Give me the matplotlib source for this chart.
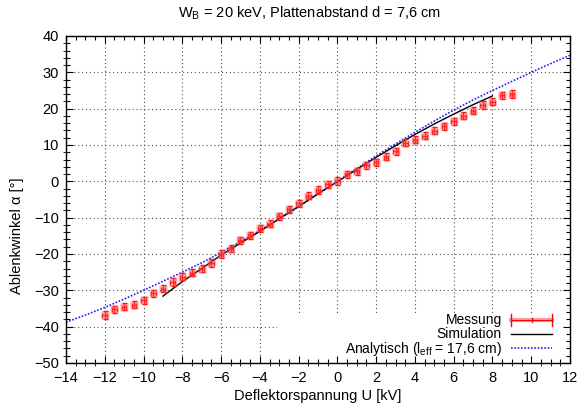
import matplotlib
matplotlib.use('Agg')
import matplotlib.pyplot as plt
from matplotlib.patches import Rectangle
from matplotlib.ticker import MultipleLocator

plt.rcParams['font.family'] = ['Liberation Sans', 'DejaVu Sans']
plt.rcParams['font.size'] = 10

# Messung
U_mess = [-12, -11.5, -11, -10.5, -10, -9.5, -9, -8.5, -8, -7.5, -7, -6.5, -6, -5.5,
          -5, -4.5, -4, -3.5, -3, -2.5, -2, -1.5, -1, -0.5, 0, 0.5, 1, 1.5, 2, 2.5,
          3, 3.5, 4, 4.5, 5, 5.5, 6, 6.5, 7, 7.5, 8, 8.5, 9]
alpha_mess = [-36.8, -35.2, -34.5, -34.0, -32.7, -30.8, -29.5, -27.7, -26.2, -25.1, -24.0,
              -22.5, -20.0, -18.5, -16.2, -14.9, -12.9, -11.7, -9.6, -7.7, -6.1, -4.0,
              -2.4, -0.8, 0.1, 1.9, 2.8, 4.4, 5.2, 6.8, 8.3, 10.6, 11.5, 12.6, 13.9,
              15.1, 16.5, 18.1, 19.4, 21.0, 21.9, 23.7, 24.0]
dU = 0.12
dalpha = 1.0

# Simulation
U_sim = [-9, -8, -7, -6, -5, -4, -3, -2, -1, 0, 1, 2, 3, 4, 5, 6, 7, 8]
alpha_sim = [-31.6, -27.6, -24.0, -20.3, -17.0, -13.8, -10.3, -6.9, -3.4, -0.1,
             3.3, 6.6, 9.8, 12.9, 15.8, 18.5, 21.1, 23.5]

# Analytisch
U_ana = [-14, -13, -12, -11, -10, -9, -8, -7, -6, -5, -4, -3, -2, -1, 0,
         1, 2, 3, 4, 5, 6, 7, 8, 9, 10, 11, 12]
alpha_ana = [-38.8, -36.8, -34.7, -32.4, -30.0, -27.5, -25.0, -22.4, -19.6, -16.6,
             -13.5, -10.3, -7.0, -3.5, 0.0, 3.5, 7.0, 10.3, 13.5, 16.6, 19.6, 22.4,
             25.0, 27.5, 30.0, 32.4, 34.7]

W, H = 581, 408
fig = plt.figure(figsize=(W / 100, H / 100), dpi=100)
rect = [66 / W, 1 - 363 / H, 504 / W, 327 / H]

# background axes: grid + opaque key box
ax_bg = fig.add_axes(rect)
ax = fig.add_axes(rect, sharex=ax_bg, sharey=ax_bg)
ax.set_xlim(-14, 12)
ax.set_ylim(-50, 40)

ax_bg.xaxis.set_major_locator(MultipleLocator(2))
ax_bg.yaxis.set_major_locator(MultipleLocator(10))
ax_bg.grid(True, color='0.3', linewidth=0.8, linestyle=(0, (1, 2.5)))
ax_bg.tick_params(length=0, labelbottom=False, labelleft=False)
for s in ax_bg.spines.values():
    s.set_visible(False)
ax_bg.add_patch(Rectangle(((277 - 66) / 504, 0), 1, (363 - 313) / 327,
                          transform=ax_bg.transAxes, facecolor='white',
                          edgecolor='none', zorder=3))

ax.patch.set_visible(False)
ax.xaxis.set_minor_locator(MultipleLocator(0.5))
ax.yaxis.set_minor_locator(MultipleLocator(2))
ax.tick_params(which='both', direction='in', top=True, right=True, width=0.8,
               labelsize=10.5)
ax.tick_params(which='major', length=5)
ax.tick_params(which='minor', length=2.8)
ax.tick_params(axis='x', pad=6)
ax.tick_params(axis='y', pad=5)
for s in ax.spines.values():
    s.set_linewidth(1.0)

ax.plot(U_ana, alpha_ana, color='#2020ff', linewidth=1.2, linestyle=(0, (1, 1)))
ax.plot(U_sim, alpha_sim, color='black', linewidth=1.0)
ax.errorbar(U_mess, alpha_mess, xerr=dU, yerr=dalpha, fmt='s', markersize=6,
            markerfacecolor=(1, 0.35, 0.35, 0.45), markeredgecolor='none',
            ecolor='red', elinewidth=1.0, capsize=1.8, capthick=1.0)

# key
tx = (501.7 - 66) / 504
x0, x1 = (510.7 - 66) / 504, (552.3 - 66) / 504
rows = [(363 - py) / 327 for py in (320.0, 334.0, 349.5)]
labels = ['Messung', 'Simulation', r'Analytisch (l$_\mathregular{eff}$ = 17,6 cm)']
for lab, yy in zip(labels, rows):
    ax.text(tx, yy, lab, transform=ax.transAxes, ha='right', va='center', fontsize=10)
ax.plot([x0, x1], [rows[0]] * 2, transform=ax.transAxes, color=(1, 0.35, 0.35, 0.55),
        linewidth=3)
ax.plot([x0, x1], [rows[0]] * 2, transform=ax.transAxes, color='red', linewidth=0.9)
for xc, hh in ((x0, 0.018), (x1, 0.018), ((x0 + x1) / 2, 0.006)):
    ax.plot([xc, xc], [rows[0] - hh, rows[0] + hh], transform=ax.transAxes,
            color='red', linewidth=1.0)
ax.plot([x0, x1], [rows[1]] * 2, transform=ax.transAxes, color='black', linewidth=1.0)
ax.plot([x0, x1], [rows[2] + 0.006] * 2, transform=ax.transAxes, color='#2020ff',
        linewidth=1.2, linestyle=(0, (1, 1)))

fig.text(309 / W, 1 - 13 / H, r'W$_\mathregular{B}$ = 20 keV, Plattenabstand d = 7,6 cm',
         ha='center', va='center', fontsize=10.5)
fig.text(318 / W, 1 - 396 / H, 'Deflektorspannung U [kV]', ha='center', va='center',
         fontsize=10.5)
fig.text(17 / W, 1 - 236 / H, 'Ablenkwinkel α [°]', ha='center', va='center',
         rotation=90, fontsize=10.5)

fig.savefig('out.png', dpi=100)
